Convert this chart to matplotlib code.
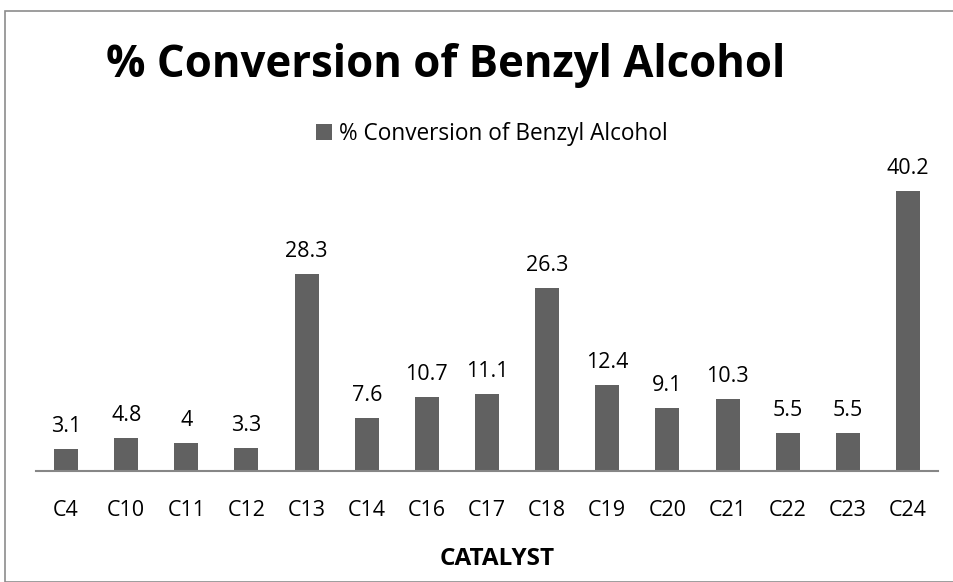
import matplotlib
matplotlib.use("Agg")
import matplotlib.pyplot as plt
from matplotlib.patches import Rectangle

categories = ["C4", "C10", "C11", "C12", "C13", "C14", "C16", "C17", "C18",
              "C19", "C20", "C21", "C22", "C23", "C24"]
values = [3.1, 4.8, 4, 3.3, 28.3, 7.6, 10.7, 11.1, 26.3, 12.4, 9.1, 10.3, 5.5, 5.5, 40.2]
value_labels = ["3.1", "4.8", "4", "3.3", "28.3", "7.6", "10.7", "11.1", "26.3",
                "12.4", "9.1", "10.3", "5.5", "5.5", "40.2"]
series_name = "% Conversion of Benzyl Alcohol"
title = "% Conversion of Benzyl Alcohol"
xlabel = "CATALYST"

plt.rcParams['font.family'] = ['Open Sans', 'DejaVu Sans']

W, H = 954, 582
fig = plt.figure(figsize=(W/100, H/100), dpi=100)

# outer chart border
fig.patches.append(Rectangle((5/W, 0), 1, 1 - 11/H, transform=fig.transFigure,
                             fill=False, edgecolor="#8c8c8c", linewidth=1.2))

ax_left, ax_right = 36, 938
base_y, top_y = 471, 158
ax = fig.add_axes([ax_left/W, 1 - base_y/H, (ax_right-ax_left)/W, (base_y-top_y)/H])
x = range(len(categories))
bars = ax.bar(x, values, width=0.4, color="#616161", label=series_name)
ax.set_xlim(-0.5, len(categories) - 0.5)
ax.set_ylim(0, 45)
for s in ["top", "right", "left"]:
    ax.spines[s].set_visible(False)
ax.spines["bottom"].set_color("#868686")
ax.spines["bottom"].set_linewidth(1.5)
ax.set_yticks([])
ax.set_xticks(list(x))
ax.set_xticklabels(categories, fontsize=15.5, color="#000000")
ax.tick_params(axis="x", length=0, pad=21)
for xi, v, lab in zip(x, values, value_labels):
    ax.annotate(lab, (xi, v), xytext=(0, 12.2), textcoords="offset points",
                ha="center", va="baseline", fontsize=15.5)

fig.text(497/W, 1 - 565/H, xlabel, ha="center", va="baseline", fontsize=17.5,
         fontweight="bold")
fig.text(446/W, 1 - 77/H, title, ha="center", va="baseline", fontsize=31.5,
         fontweight="bold")
leg = fig.legend(handles=[bars], labels=[series_name], loc="center",
                 bbox_to_anchor=(492/W, 1 - 134/H), frameon=False, fontsize=16.3,
                 handlelength=0.7, handleheight=0.7, handletextpad=0.3)

fig.savefig("out.png", dpi=100)
